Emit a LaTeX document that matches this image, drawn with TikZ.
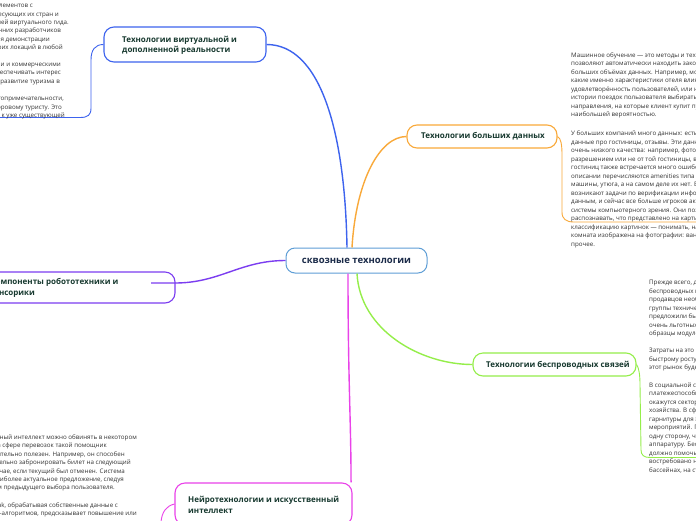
\documentclass[tikz,border=0pt]{standalone}
\usepackage{fontspec}
\setmainfont{Open Sans}
\definecolor{cBlue}{HTML}{3D63EE}
\definecolor{cOrange}{HTML}{F9A93A}
\definecolor{cGreen}{HTML}{95EE4A}
\definecolor{cPurple}{HTML}{7B3DF0}
\definecolor{cMag}{HTML}{E942E9}
\definecolor{cCenter}{HTML}{5E9ED6}
\definecolor{nodeText}{HTML}{17392F}
\definecolor{centerText}{HTML}{1A2A48}
\definecolor{noteText}{HTML}{333333}
\newcommand{\nl}[4]{\node[note,anchor=#1] (#2) at #3 {#4};}
\begin{document}
\begin{tikzpicture}[x=1pt,y=-1pt,
  note/.style={font=\fontsize{6.2}{8.5}\selectfont, text=noteText, inner sep=0pt},
  box/.style={draw, line width=1.1pt, rounded corners=10pt, inner sep=0pt},
  btext/.style={font=\fontsize{8}{10.7}\selectfont\bfseries, text=nodeText, align=left, inner sep=0pt, anchor=west},
  mainline/.style={line width=1.4pt},
  noteline/.style={line width=0.9pt}]
\useasboundingbox (0,0) rectangle (696,520);
\fill[white] (0,0) rectangle (696,520);
\clip (0,0) rectangle (696,520);

% center node
\node[box, draw=cCenter, line width=1pt, rounded corners=9pt, minimum width=141pt, minimum height=25pt,
  font=\fontsize{9.5}{11}\selectfont\bfseries, text=centerText] (c) at (356.5,260.5) {сквозные технологии};

% branch boxes
\node[box, draw=cBlue, minimum width=162pt, minimum height=35pt] (vr) at (185,44.5) {};
\node[btext] (vrt) at (122,45.4) {Технологии виртуальной и\\дополненной реальности};

\node[box, draw=cOrange, minimum width=150pt, minimum height=23pt] (bd) at (482,136.5) {};
\node[btext] (bdt) at (421,136.7) {Технологии больших данных};

\node[box, draw=cGreen, minimum width=163pt, minimum height=23pt] (ws) at (554.5,364.5) {};
\node[btext] (wst) at (486,365) {Технологии беспроводных связей};

\node[box, draw=cPurple, minimum width=215pt, minimum height=31pt] (rs) at (67.5,287.5) {};
\node[btext] (rst) at (-10,288) {Компоненты робототехники и\\сенсорики};

\node[box, draw=cMag, minimum width=177pt, minimum height=42pt] (ni) at (263.5,504) {};
\node[btext] (nit) at (188,505) {Нейротехнологии и искусственный\\интеллект};

% main connectors
\draw[mainline, cBlue] ([xshift=-9.5pt]c.north) .. controls (345,130) and (320,44.5) .. (vr.east);
\draw[mainline, cOrange] ([xshift=-4.5pt]c.north) .. controls (356,180) and (380,136.5) .. (bd.west);
\draw[mainline, cPurple] (c.west) .. controls (240,260.5) and (220,283) .. (175,283) -- (151,283);
\draw[mainline, cMag] ([xshift=-8.5pt]c.south) .. controls (348,380) and (351,420) .. ([xshift=-1.5pt]ni.north east);
\draw[mainline, cGreen] ([xshift=0.5pt]c.south) .. controls (360,330) and (420,364.5) .. (ws.west);

% note connectors
\coordinate (blueEnd) at (0,117.5);
\coordinate (orangeEnd) at (696,222);
\coordinate (greenEnd) at (696,457.5);
\coordinate (magEnd) at (161,522);
\draw[noteline, cBlue] (vr.west) .. controls (95,44.5) and (91,50) .. (91,60) -- (91,108) .. controls (91,115) and (88,117.5) .. (80,117.5) -- (blueEnd);
\draw[noteline, cOrange] (bd.east) .. controls (561,138) and (562,145) .. (562,155) -- (562,212) .. controls (562,219) and (566,222) .. (574,222) -- (orangeEnd);
\draw[noteline, cGreen] (ws.east) .. controls (639,368) and (640,375) .. (640,385) -- (641,450) .. controls (641,455) and (644,457.5) .. (650,457.5) -- (greenEnd);
\draw[noteline, cMag] (ni.west) .. controls (166,506) and (162,512) .. (magEnd);

% top-left note
\nl{base east}{t1}{(33,7.7)}{технологий и элементов с}
\nl{base east}{t2}{(59,16.1)}{интересующих их стран и}
\nl{base east}{t3}{(69,24.5)}{с функцией виртуального гида.}
\nl{base east}{t4}{(61,32.9)}{внутренних разработчиков}
\nl{base east}{t5}{(50,41.3)}{для демонстрации}
\nl{base east}{t6}{(63,49.7)}{своих локаций в любой}
\nl{base east}{t7}{(61,66.2)}{государственными и коммерческими}
\nl{base east}{t8}{(61,74.7)}{обеспечивать интерес}
\nl{base east}{t9}{(60,83.2)}{и развитие туризма в}
\nl{base east}{t10}{(64,100.7)}{достопримечательности,}
\nl{base east}{t11}{(62,109.2)}{и здоровому туристу. Это}
\nl{base east}{t12}{(65,117.7)}{интерес к уже существующей}

% bottom-left note
\nl{base east}{b1}{(137,439.4)}{Искусственный интеллект можно обвинять в некотором}
\nl{base east}{b2}{(107,447.8)}{отношениях, а сфере перевозок такой помощник}
\nl{base east}{b3}{(125,456.2)}{будет исключительно полезен. Например, он способен}
\nl{base east}{b4}{(131,464.6)}{самостоятельно забронировать билет на следующий}
\nl{base east}{b5}{(125,473)}{рейс в случае, если текущий был отменен. Система}
\nl{base east}{b6}{(124,481.4)}{предложит наиболее актуальное предложение, следуя}
\nl{base east}{b7}{(115,489.8)}{алгоритмам предыдущего выбора пользователя.}
\nl{base east}{b8}{(118,507.2)}{Kayak, обрабатывая собственные данные с}
\nl{base east}{b9}{(137,515.7)}{помощью AI-алгоритмов, предсказывает повышение или}

% right note (big data)
\nl{base west}{m1}{(571,57.4)}{Машинное обучение — это методы и технологии, которые}
\nl{base west}{m2}{(571,65.9)}{позволяют автоматически находить закономерности в}
\nl{base west}{m3}{(571,74.4)}{больших объёмах данных. Например, можно понять,}
\nl{base west}{m4}{(571,82.9)}{какие именно характеристики отеля влияют на}
\nl{base west}{m5}{(571,91.4)}{удовлетворённость пользователей, или на основе}
\nl{base west}{m6}{(571,99.9)}{истории поездок пользователя выбирать те}
\nl{base west}{m7}{(571,108.4)}{направления, на которые клиент купит путёвку с}
\nl{base west}{m8}{(571,116.9)}{наибольшей вероятностью.}
\nl{base west}{m9}{(571,135.7)}{У больших компаний много данных: есть каталоги,}
\nl{base west}{m10}{(571,144.2)}{данные про гостиницы, отзывы. Эти данные бывают}
\nl{base west}{m11}{(571,152.7)}{очень низкого качества: например, фотографии с низким}
\nl{base west}{m12}{(571,161.2)}{разрешением или не от той гостиницы, в описании}
\nl{base west}{m13}{(571,169.7)}{гостиниц также встречается много ошибок: в}
\nl{base west}{m14}{(571,178.2)}{описании перечисляются amenities типа стиральной}
\nl{base west}{m15}{(571,186.7)}{машины, утюга, а на самом деле их нет. В связи с этим}
\nl{base west}{m16}{(571,195.2)}{возникают задачи по верификации информации по}
\nl{base west}{m17}{(571,203.7)}{данным, и сейчас все больше игроков активно внедряют}
\nl{base west}{m18}{(571,212.2)}{системы компьютерного зрения. Они позволяют}
\nl{base west}{m19}{(571,220.7)}{распознавать, что представлено на картинке, проводить}
\nl{base west}{m20}{(571,229.2)}{классификацию картинок — понимать, например, какая}
\nl{base west}{m21}{(571,237.7)}{комната изображена на фотографии: ванная, спальня или}
\nl{base west}{m22}{(571,246.2)}{прочее.}

% right note (wireless)
\nl{base west}{g1}{(649,284.7)}{Прежде всего, для развития}
\nl{base west}{g2}{(649,293.2)}{беспроводных модулей}
\nl{base west}{g3}{(649,301.7)}{продавцов необходимо}
\nl{base west}{g4}{(649,310.2)}{группы технических}
\nl{base west}{g5}{(649,318.7)}{предложили бы}
\nl{base west}{g6}{(649,327.2)}{очень льготных условиях}
\nl{base west}{g7}{(649,335.7)}{образцы модулей}
\nl{base west}{g8}{(649,352.7)}{Затраты на это окупятся}
\nl{base west}{g9}{(649,361.2)}{быстрому росту рынка}
\nl{base west}{g10}{(649,369.7)}{этот рынок будет}
\nl{base west}{g11}{(649,387.2)}{В социальной сфере}
\nl{base west}{g12}{(649,395.7)}{платежеспособными}
\nl{base west}{g13}{(649,404.2)}{окажутся секторы}
\nl{base west}{g14}{(649,412.7)}{хозяйства. В сфере}
\nl{base west}{g15}{(649,421.2)}{гарнитуры для этого}
\nl{base west}{g16}{(649,429.7)}{мероприятий. При}
\nl{base west}{g17}{(649,438.2)}{одну сторону, что}
\nl{base west}{g18}{(649,446.7)}{аппаратуру. Беспроводная}
\nl{base west}{g19}{(649,455.2)}{должно помочь}
\nl{base west}{g20}{(649,463.7)}{востребовано на}
\nl{base west}{g21}{(649,472.2)}{бассейнах, на стадионах}
\end{tikzpicture}
\end{document}
